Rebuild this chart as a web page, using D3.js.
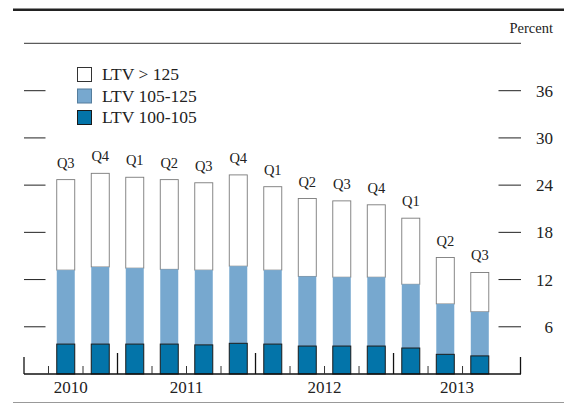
<!DOCTYPE html>
<html>
<head>
<meta charset="utf-8">
<script src="https://cdn.jsdelivr.net/npm/d3@7"></script>
<style>
  body { margin: 0; background: #fff; }
  svg { display: block; font-family: "Liberation Serif", "Times New Roman", serif; }
</style>
</head>
<body>
<div id="chart"></div>
<script>
// quarters from 2010 Q3 to 2013 Q3
var quarters = ["Q3", "Q4", "Q1", "Q2", "Q3", "Q4", "Q1", "Q2", "Q3", "Q4", "Q1", "Q2", "Q3"];
var years = ["2010", "2011", "2012", "2013"];
// share of mortgages (percent) by LTV bucket
var ltv100to105 = [3.8, 3.8, 3.8, 3.8, 3.7, 3.9, 3.8, 3.55, 3.55, 3.55, 3.3, 2.5, 2.3];
var ltv105to125 = [9.4, 9.8, 9.65, 9.5, 9.5, 9.8, 9.4, 8.85, 8.75, 8.75, 8.1, 6.4, 5.6];
var ltvOver125 = [11.5, 11.9, 11.55, 11.4, 11.1, 11.6, 10.6, 9.9, 9.7, 9.2, 8.4, 5.9, 5.0];
var yTicks = [6, 12, 18, 24, 30, 36];
var legendLabels = ["LTV > 125", "LTV 105-125", "LTV 100-105"];

var W = 564, H = 403;
var darkBlue = "#0374a9", lightBlue = "#77a8cf";

var svg = d3.select("#chart")
    .append("svg")
    .attr("width", W)
    .attr("height", H);

// x runs on quarter index, 0 = start of 2010 Q3
var x = d3.scaleLinear()
    .domain([-0.71, 13.68])
    .range([24, 520.5]);
var y = d3.scaleLinear()
    .domain([0, 36])
    .range([374, 90.7]);
var barW = 18;

// frame rules
svg.append("line")
    .attr("x1", 13).attr("x2", W)
    .attr("y1", 9.7).attr("y2", 9.7)
    .style("stroke", "#222")
    .style("stroke-width", 2.5);
svg.append("line")
    .attr("x1", 24).attr("x2", 521)
    .attr("y1", 43.3).attr("y2", 43.3)
    .style("stroke", "#333")
    .style("stroke-width", 1);
svg.append("line")
    .attr("x1", 13).attr("x2", W)
    .attr("y1", 402.5).attr("y2", 402.5)
    .style("stroke", "#999")
    .style("stroke-width", 1);

svg.append("text")
    .attr("x", 553)
    .attr("y", 33)
    .attr("text-anchor", "end")
    .style("font-size", "14.5px")
    .style("fill", "#222")
    .text("Percent");

// y ticks on both sides
var tickG = svg.append("g");
tickG.selectAll(".lt")
    .data(yTicks)
    .enter()
    .append("line")
    .attr("x1", 24).attr("x2", 45.5)
    .attr("y1", function (d) { return y(d); })
    .attr("y2", function (d) { return y(d); })
    .style("stroke", "#222")
    .style("stroke-width", 1);
tickG.selectAll(".rt")
    .data(yTicks)
    .enter()
    .append("line")
    .attr("x1", 498.5).attr("x2", 521)
    .attr("y1", function (d) { return y(d); })
    .attr("y2", function (d) { return y(d); })
    .style("stroke", "#222")
    .style("stroke-width", 1);
tickG.selectAll(".rl")
    .data(yTicks)
    .enter()
    .append("text")
    .attr("x", 553)
    .attr("y", function (d) { return y(d); })
    .attr("dy", "0.35em")
    .attr("text-anchor", "end")
    .style("font-size", "17px")
    .style("fill", "#222")
    .text(function (d) { return d; });

// stacked bars
var stacks = quarters.map(function (q, i) {
    var a = ltv100to105[i], b = a + ltv105to125[i], c = b + ltvOver125[i];
    return {i: i, q: q, a: a, b: b, c: c};
});
var bars = svg.append("g")
    .selectAll("g")
    .data(stacks)
    .enter()
    .append("g");
bars.append("rect")
    .attr("x", function (d) { return x(d.i + 0.5) - barW / 2; })
    .attr("y", function (d) { return y(d.c); })
    .attr("width", barW)
    .attr("height", function (d) { return y(d.b) - y(d.c); })
    .style("fill", "#fff")
    .style("stroke", "#7a7a7a")
    .style("stroke-width", 0.9);
bars.append("rect")
    .attr("x", function (d) { return x(d.i + 0.5) - barW / 2; })
    .attr("y", function (d) { return y(d.b); })
    .attr("width", barW)
    .attr("height", function (d) { return y(d.a) - y(d.b); })
    .style("fill", lightBlue);
bars.append("rect")
    .attr("x", function (d) { return x(d.i + 0.5) - barW / 2; })
    .attr("y", function (d) { return y(d.a); })
    .attr("width", barW)
    .attr("height", function (d) { return y(0) - y(d.a); })
    .style("fill", darkBlue)
    .style("stroke", "#1a1a1a")
    .style("stroke-width", 1);
bars.append("text")
    .attr("x", function (d) { return x(d.i + 0.5); })
    .attr("y", function (d) { return y(d.c) - 12; })
    .attr("text-anchor", "middle")
    .style("font-size", "14.5px")
    .style("fill", "#222")
    .text(function (d) { return d.q; });

// time axis
svg.append("line")
    .attr("x1", 24).attr("x2", 521)
    .attr("y1", 374).attr("y2", 374)
    .style("stroke", "#111")
    .style("stroke-width", 1.5);
var yearStarts = [2, 6, 10];
var qTicks = d3.range(0, 13).filter(function (d) { return yearStarts.indexOf(d) < 0; });
svg.append("g")
    .selectAll("line")
    .data(qTicks)
    .enter()
    .append("line")
    .attr("x1", function (d) { return x(d); })
    .attr("x2", function (d) { return x(d); })
    .attr("y1", 366).attr("y2", 374)
    .style("stroke", "#333")
    .style("stroke-width", 1);
svg.append("g")
    .selectAll("line")
    .data(yearStarts)
    .enter()
    .append("line")
    .attr("x1", function (d) { return x(d); })
    .attr("x2", function (d) { return x(d); })
    .attr("y1", 353).attr("y2", 374)
    .style("stroke", "#111")
    .style("stroke-width", 1.3);
svg.append("g")
    .selectAll("line")
    .data(x.domain())
    .enter()
    .append("line")
    .attr("x1", function (d) { return x(d); })
    .attr("x2", function (d) { return x(d); })
    .attr("y1", 357).attr("y2", 374)
    .style("stroke", "#111")
    .style("stroke-width", 1.3);

// year labels sit in the middle of the visible part of each year
var edges = [x.domain()[0]].concat(yearStarts).concat([x.domain()[1]]);
svg.append("g")
    .selectAll("text")
    .data(years)
    .enter()
    .append("text")
    .attr("x", function (d, i) { return x((edges[i] + edges[i + 1]) / 2); })
    .attr("y", 393)
    .attr("text-anchor", "middle")
    .style("font-size", "17px")
    .style("fill", "#222")
    .text(function (d) { return d; });

// legend
var legendFill = ["#fff", lightBlue, darkBlue];
var legendStroke = ["#333", "#557d9c", "#1a1a1a"];
var legend = svg.append("g")
    .selectAll("g")
    .data(legendLabels)
    .enter()
    .append("g")
    .attr("transform", function (d, i) { return "translate(77.5," + (67.5 + i * 21.5) + ")"; });
legend.append("rect")
    .attr("width", 14)
    .attr("height", 14)
    .style("fill", function (d, i) { return legendFill[i]; })
    .style("stroke", function (d, i) { return legendStroke[i]; })
    .style("stroke-width", 1);
legend.append("text")
    .attr("x", 24.5)
    .attr("y", 12.5)
    .style("font-size", "17.5px")
    .style("fill", "#222")
    .text(function (d) { return d; });
</script>
</body>
</html>
